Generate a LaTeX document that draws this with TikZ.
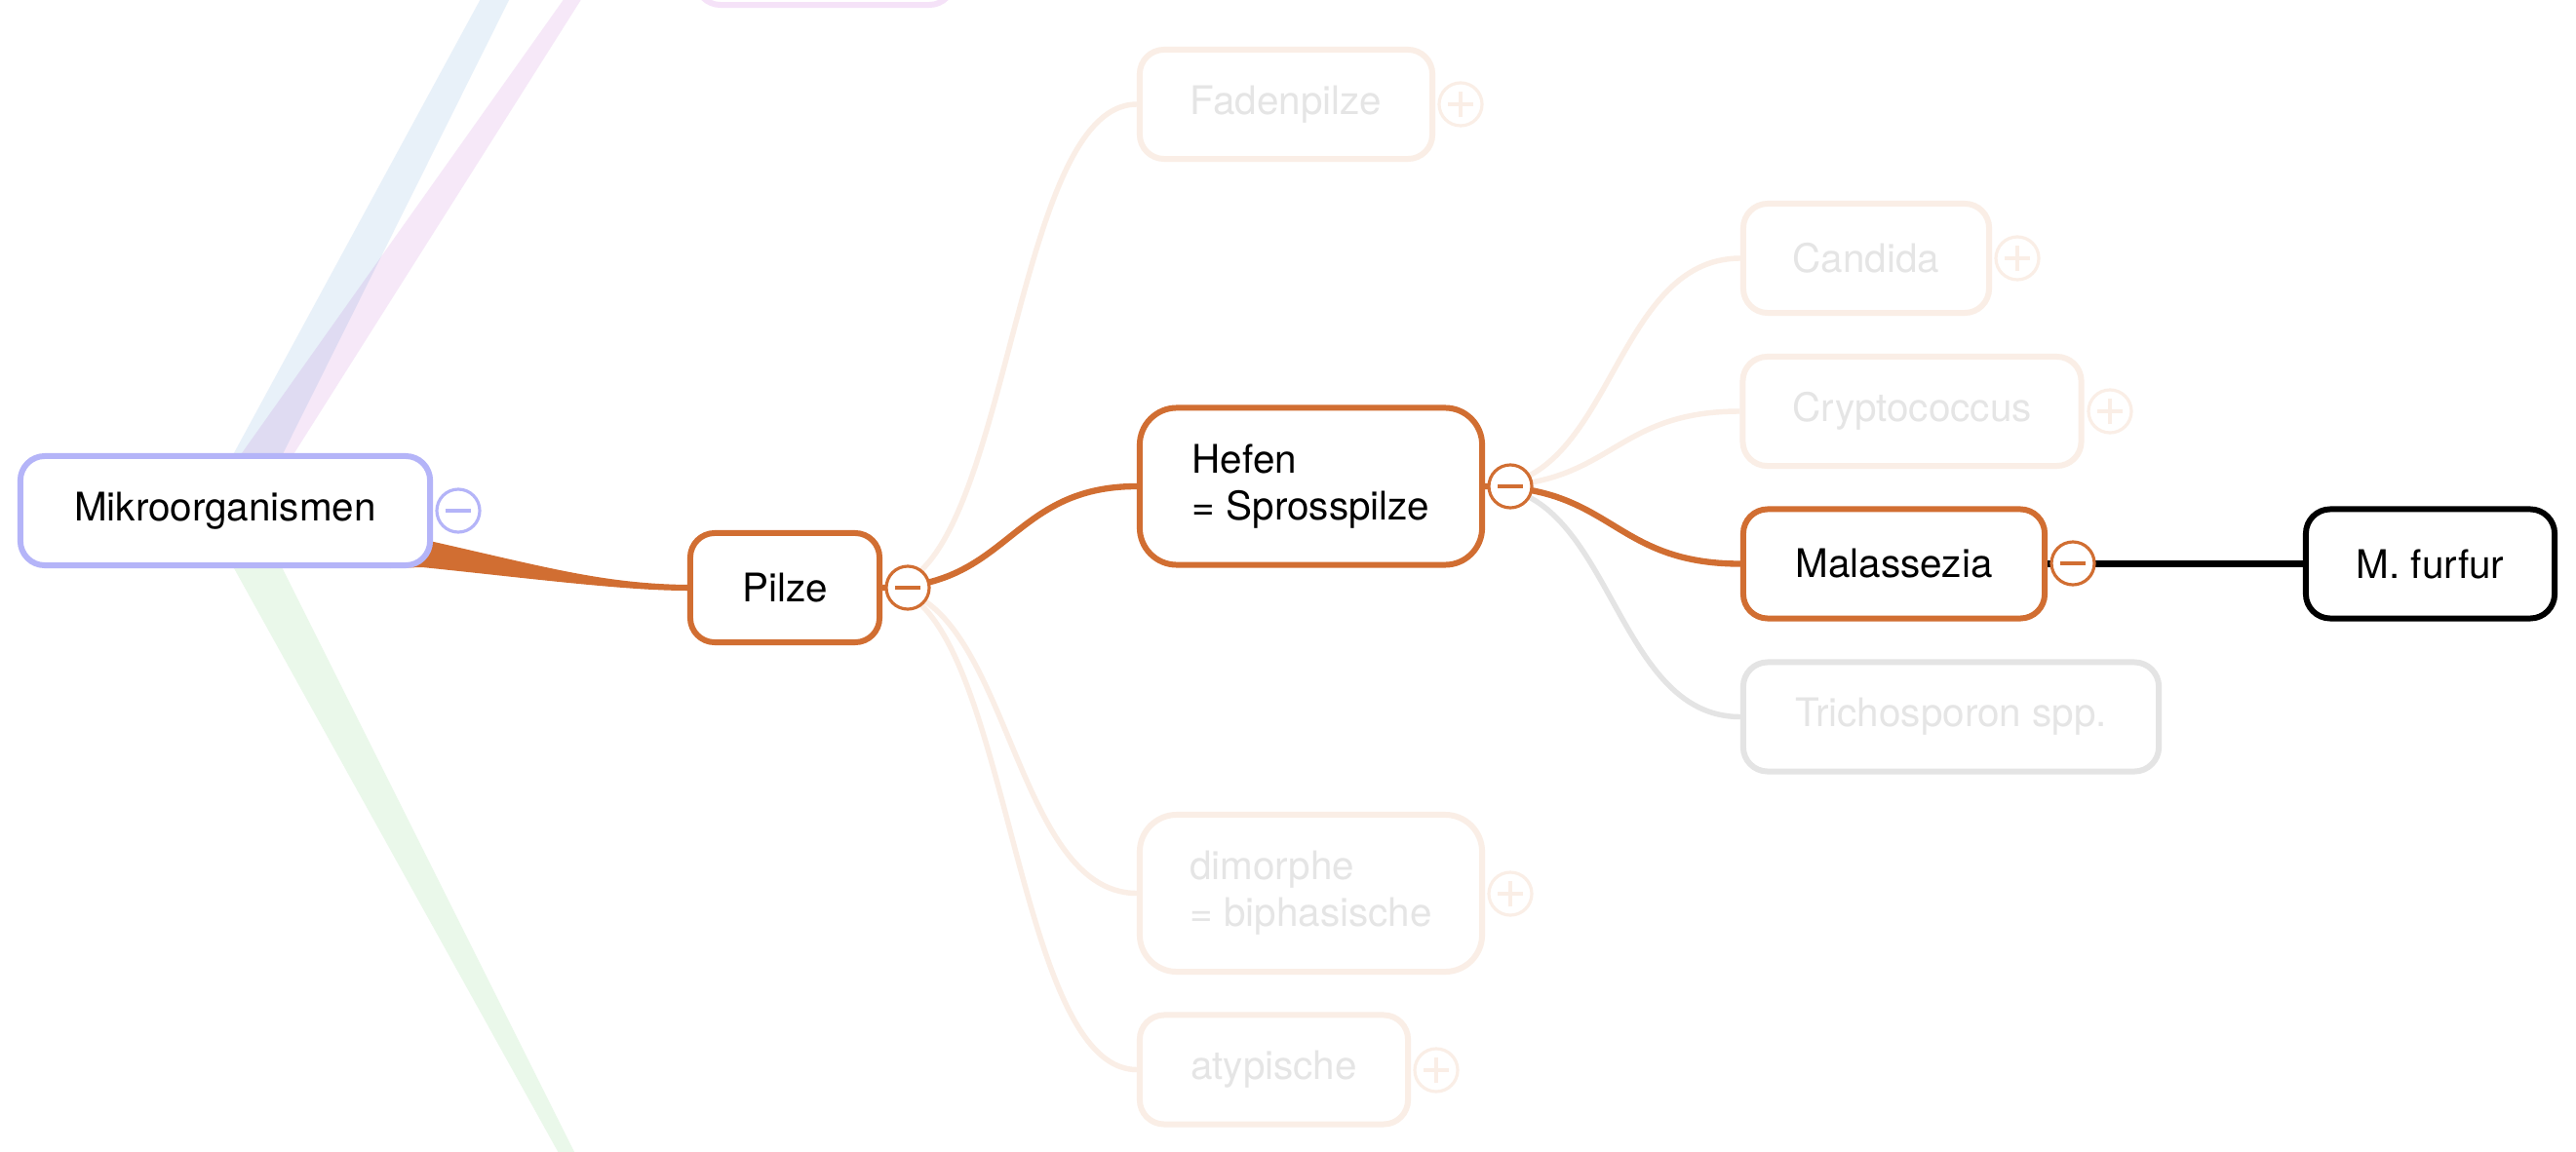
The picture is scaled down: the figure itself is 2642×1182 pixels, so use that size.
\documentclass[tikz,border=0pt]{standalone}
\usepackage{fontspec}
\setmainfont{TeX Gyre Heros}
\definecolor{orng}{RGB}{209,110,50}
\definecolor{lav}{RGB}{180,180,248}
\definecolor{fadeor}{RGB}{250,238,230}
\definecolor{fadetx}{RGB}{229,229,229}
\definecolor{grayb}{RGB}{228,228,228}
\definecolor{bandblue}{RGB}{232,241,249}
\definecolor{bandpink}{RGB}{246,232,248}
\definecolor{bandgreen}{RGB}{234,248,234}
\definecolor{pinkbox}{RGB}{245,226,248}
\tikzset{
  boxs/.style={draw, rounded corners=0.25cm, line width=1.7pt, fill=white, inner sep=0pt,
    minimum height=1.12cm, font=\fontsize{11.5}{13.7}\selectfont, align=left},
  boxd/.style={boxs, rounded corners=0.38cm, minimum height=1.61cm},
  act/.style={draw=orng, text=black},
  fad/.style={draw=fadeor, text=fadetx},
  tgminus/.style={circle, draw=#1, fill=white, line width=0.9pt, minimum size=0.44cm, inner sep=0pt,
    path picture={\draw[#1, line width=0.9pt] ([xshift=-0.13cm]path picture bounding box.center) -- ([xshift=0.13cm]path picture bounding box.center);}},
  tgplus/.style={circle, draw=#1, fill=white, line width=0.9pt, minimum size=0.44cm, inner sep=0pt,
    path picture={\draw[#1, line width=0.9pt] ([xshift=-0.13cm]path picture bounding box.center) -- ([xshift=0.13cm]path picture bounding box.center)
      ([yshift=-0.13cm]path picture bounding box.center) -- ([yshift=0.13cm]path picture bounding box.center);}},
  conact/.style={draw=orng, line width=1.8pt},
  confad/.style={draw=fadeor, line width=1.55pt},
  congray/.style={draw=grayb, line width=1.55pt}
}
\begin{document}
\begin{tikzpicture}[x=0.01cm, y=-0.01cm]
\useasboundingbox (0,0) rectangle (2642,1182);
\clip (0,0) rectangle (2642,1182);
\fill[white] (0,0) rectangle (2642,1182);
% faint main branches
\begin{scope}[blend group=multiply]
  \fill[bandblue] (514,-40) -- (542,-40) -- (263,520) -- (210,520) -- cycle;
  \fill[bandpink] (606,-40) -- (621,-40) -- (267,520) -- (209,520) -- cycle;
  \fill[bandgreen] (205,520) -- (258,520) -- (613,1230) -- (599,1230) -- cycle;
\end{scope}
% partially visible box at the top
\node[draw=pinkbox, rounded corners=0.25cm, line width=1.7pt, fill=white, minimum width=2.64cm, minimum height=1.10cm] (topbox) at (846,-50) {};
% nodes
\node[boxs, act, minimum width=1.94cm] (pilze) at (805,603) {Pilze};
\fill[orng] (400,546) -- (445,556) .. controls (560,582) and (620,599) .. ([yshift=0.03cm]pilze.west)
  -- ([yshift=-0.03cm]pilze.west) .. controls (640,606) and (540,593) .. (433,582) -- (400,583) -- cycle;
\node[boxs, draw=lav, minimum width=4.20cm] (mikro) at (231,524) {Mikroorganismen};
\node[boxd, act, minimum width=3.51cm] (hefen) at (1344.5,499) {Hefen\\= Sprosspilze};
\node[boxs, fad, minimum width=3.00cm] (faden) at (1319,107) {Fadenpilze};
\node[boxd, fad, minimum width=3.51cm] (dimorphe) at (1344.5,916.5) {dimorphe\\= biphasische};
\node[boxs, fad, minimum width=2.75cm] (atyp) at (1306.5,1097.5) {atypische};
\node[boxs, fad, minimum width=2.52cm] (candida) at (1914,265) {Candida};
\node[boxs, fad, minimum width=3.47cm] (crypto) at (1961,422) {Cryptococcus};
\node[boxs, act, minimum width=3.09cm] (mala) at (1942.5,578.5) {Malassezia};
\node[boxs, draw=grayb, text=fadetx, minimum width=4.26cm] (trich) at (2001,735.5) {Trichosporon spp.};
\node[boxs, draw=black, text=black, minimum width=2.55cm] (mf) at (2492.5,578.5) {M. furfur};
% connectors
\draw[confad] (pilze.east) .. controls +(130,0) and +(-130,0) .. (faden.west);
\draw[confad] (pilze.east) .. controls +(130,0) and +(-130,0) .. (dimorphe.west);
\draw[confad] (pilze.east) .. controls +(130,0) and +(-130,0) .. (atyp.west);
\draw[conact] (pilze.east) .. controls +(130,0) and +(-130,0) .. (hefen.west);
\draw[confad] (hefen.east) .. controls +(131,0) and +(-131,0) .. (candida.west);
\draw[confad] (hefen.east) .. controls +(131,0) and +(-131,0) .. (crypto.west);
\draw[congray] (hefen.east) .. controls +(131,0) and +(-131,0) .. (trich.west);
\draw[conact] (hefen.east) .. controls +(131,0) and +(-131,0) .. (mala.west);
\draw[draw=black, line width=1.8pt] (mala.east) -- (mf.west);
% toggles
\node[tgminus=lav] (tmikro) at (470,524) {};
\node[tgminus=orng] (tpilze) at (931,603) {};
\node[tgminus=orng] (thefen) at (1549,499) {};
\node[tgminus=orng] (tmala) at (2126,578) {};
\node[tgplus=fadeor] (tfaden) at (1498,107) {};
\node[tgplus=fadeor] (tcandida) at (2069,265) {};
\node[tgplus=fadeor] (tcrypto) at (2164,422) {};
\node[tgplus=fadeor] (tdim) at (1549,917) {};
\node[tgplus=fadeor] (tatyp) at (1473,1098) {};
\end{tikzpicture}
\end{document}
